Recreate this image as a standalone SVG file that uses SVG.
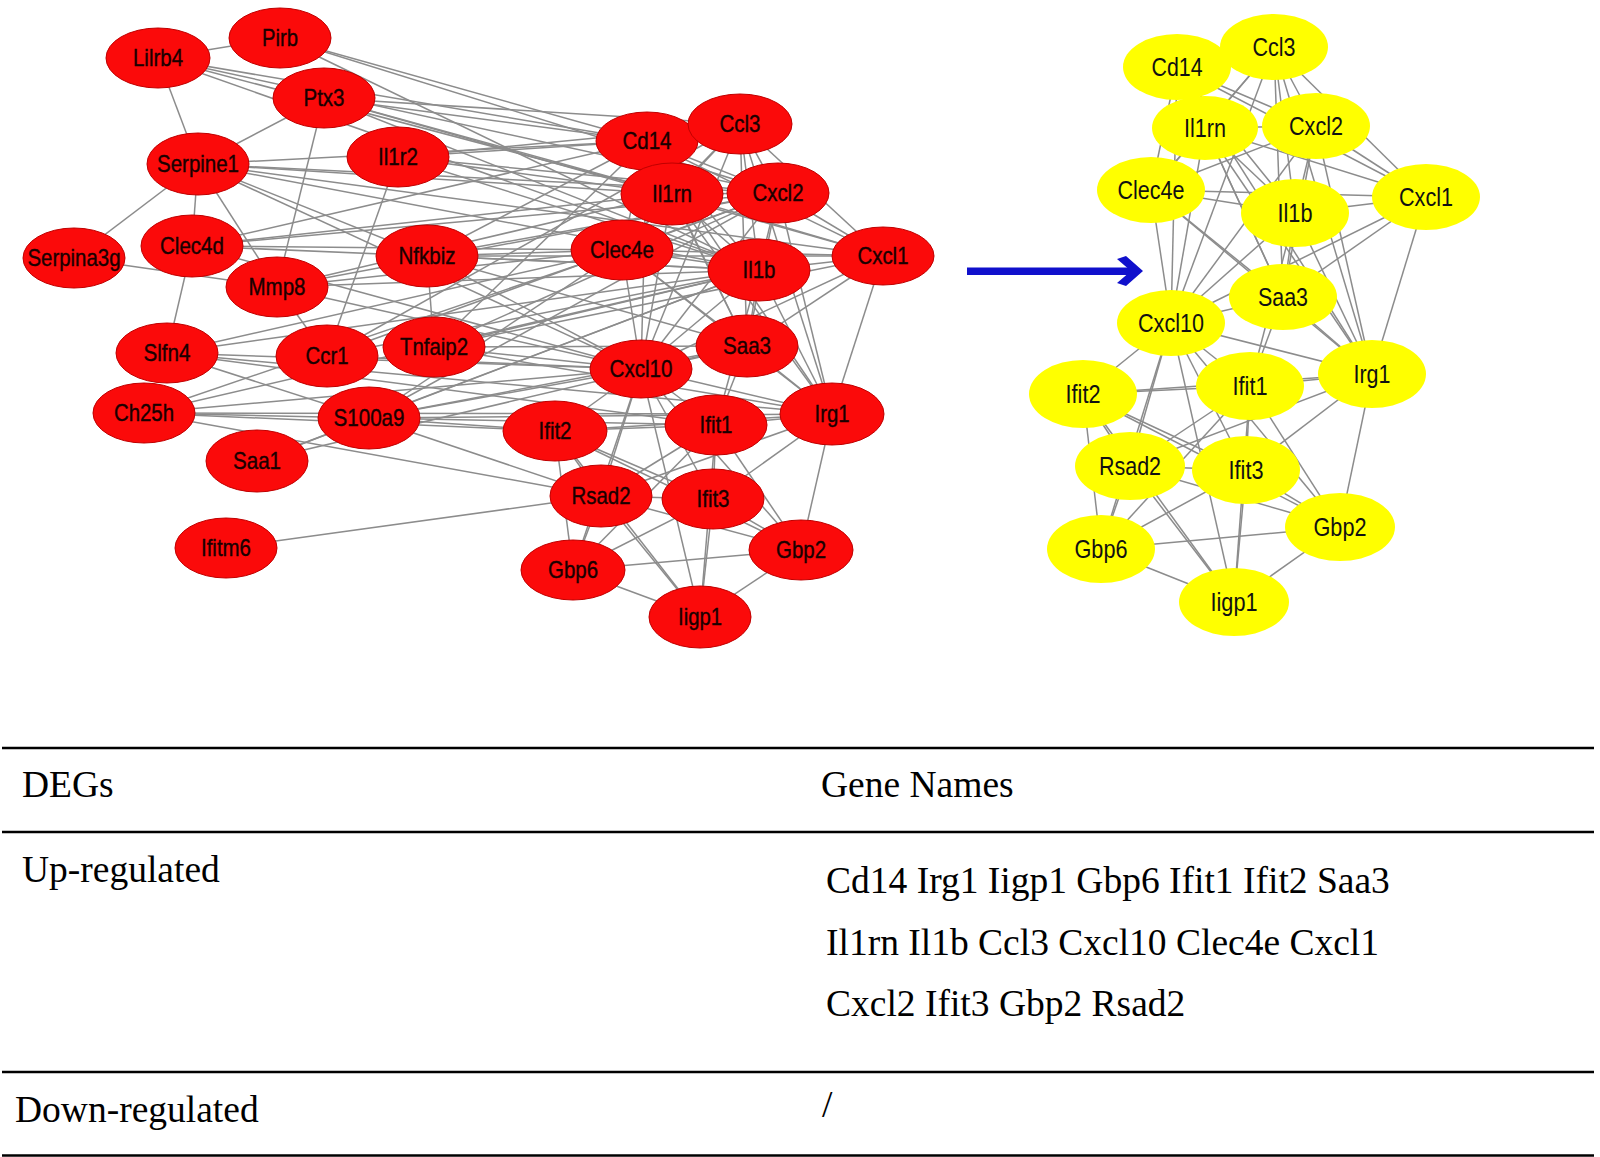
<svg xmlns="http://www.w3.org/2000/svg" width="1600" height="1157" viewBox="0 0 1600 1157">
<style>
.e{stroke:#8c8c8c;stroke-width:1.5;fill:none}
.rn{fill:#fb0a0a;stroke:#c00000;stroke-width:1}
.yn{fill:#ffff00;stroke:none}
.rt{font-family:"Liberation Sans",Arial,sans-serif;font-size:24px;text-anchor:middle;fill:#1a0000;stroke:#1a0000;stroke-width:0.4}
.yt{font-family:"Liberation Sans",Arial,sans-serif;font-size:25px;fill:#111;text-anchor:middle}
.tt{font-family:"Liberation Serif","Times New Roman",serif;font-size:37.5px;fill:#000}
.tl{stroke:#000;stroke-width:2.6}
</style>
<rect width="1600" height="1157" fill="#fff"/>
<g id="connectors">
<g id="red-edges" class="e">
<line x1="280" y1="38" x2="158" y2="58"/><line x1="280" y1="38" x2="647" y2="141"/><line x1="280" y1="38" x2="759" y2="270"/><line x1="280" y1="38" x2="778" y2="193"/>
<line x1="158" y1="58" x2="198" y2="164"/><line x1="158" y1="58" x2="647" y2="141"/><line x1="158" y1="58" x2="672" y2="194"/><line x1="158" y1="58" x2="778" y2="193"/><line x1="158" y1="58" x2="759" y2="270"/>
<line x1="324" y1="98" x2="198" y2="164"/><line x1="324" y1="98" x2="277" y2="287"/><line x1="324" y1="98" x2="647" y2="141"/><line x1="324" y1="98" x2="672" y2="194"/><line x1="324" y1="98" x2="759" y2="270"/><line x1="324" y1="98" x2="883" y2="256"/><line x1="324" y1="98" x2="740" y2="124"/>
<line x1="198" y1="164" x2="74" y2="258"/><line x1="198" y1="164" x2="192" y2="246"/><line x1="198" y1="164" x2="277" y2="287"/><line x1="198" y1="164" x2="427" y2="256"/><line x1="198" y1="164" x2="647" y2="141"/><line x1="198" y1="164" x2="672" y2="194"/><line x1="198" y1="164" x2="759" y2="270"/><line x1="198" y1="164" x2="778" y2="193"/><line x1="198" y1="164" x2="883" y2="256"/><line x1="198" y1="164" x2="641" y2="369"/>
<line x1="398" y1="157" x2="327" y2="356"/><line x1="398" y1="157" x2="647" y2="141"/><line x1="398" y1="157" x2="759" y2="270"/><line x1="398" y1="157" x2="672" y2="194"/><line x1="398" y1="157" x2="778" y2="193"/><line x1="398" y1="157" x2="740" y2="124"/>
<line x1="192" y1="246" x2="167" y2="353"/><line x1="192" y1="246" x2="647" y2="141"/><line x1="192" y1="246" x2="622" y2="250"/><line x1="192" y1="246" x2="759" y2="270"/><line x1="192" y1="246" x2="672" y2="194"/><line x1="192" y1="246" x2="641" y2="369"/><line x1="192" y1="246" x2="778" y2="193"/>
<line x1="74" y1="258" x2="277" y2="287"/>
<line x1="277" y1="287" x2="327" y2="356"/><line x1="277" y1="287" x2="759" y2="270"/><line x1="277" y1="287" x2="778" y2="193"/><line x1="277" y1="287" x2="622" y2="250"/><line x1="277" y1="287" x2="641" y2="369"/><line x1="277" y1="287" x2="672" y2="194"/>
<line x1="427" y1="256" x2="434" y2="347"/><line x1="427" y1="256" x2="759" y2="270"/><line x1="427" y1="256" x2="883" y2="256"/><line x1="427" y1="256" x2="778" y2="193"/><line x1="427" y1="256" x2="647" y2="141"/><line x1="427" y1="256" x2="622" y2="250"/><line x1="427" y1="256" x2="641" y2="369"/><line x1="427" y1="256" x2="747" y2="346"/>
<line x1="167" y1="353" x2="622" y2="250"/><line x1="167" y1="353" x2="369" y2="418"/><line x1="167" y1="353" x2="641" y2="369"/><line x1="167" y1="353" x2="759" y2="270"/><line x1="167" y1="353" x2="832" y2="414"/><line x1="167" y1="353" x2="716" y2="425"/>
<line x1="327" y1="356" x2="740" y2="124"/><line x1="327" y1="356" x2="778" y2="193"/><line x1="327" y1="356" x2="759" y2="270"/><line x1="327" y1="356" x2="641" y2="369"/>
<line x1="434" y1="347" x2="759" y2="270"/><line x1="434" y1="347" x2="883" y2="256"/><line x1="434" y1="347" x2="641" y2="369"/><line x1="434" y1="347" x2="778" y2="193"/><line x1="434" y1="347" x2="647" y2="141"/><line x1="434" y1="347" x2="747" y2="346"/><line x1="434" y1="347" x2="832" y2="414"/>
<line x1="144" y1="413" x2="369" y2="418"/><line x1="144" y1="413" x2="759" y2="270"/><line x1="144" y1="413" x2="641" y2="369"/><line x1="144" y1="413" x2="832" y2="414"/><line x1="144" y1="413" x2="622" y2="250"/><line x1="144" y1="413" x2="601" y2="496"/><line x1="144" y1="413" x2="555" y2="431"/>
<line x1="369" y1="418" x2="257" y2="461"/><line x1="369" y1="418" x2="641" y2="369"/><line x1="369" y1="418" x2="759" y2="270"/><line x1="369" y1="418" x2="832" y2="414"/><line x1="369" y1="418" x2="622" y2="250"/><line x1="369" y1="418" x2="778" y2="193"/><line x1="369" y1="418" x2="747" y2="346"/><line x1="369" y1="418" x2="716" y2="425"/><line x1="369" y1="418" x2="555" y2="431"/><line x1="369" y1="418" x2="601" y2="496"/>
<line x1="257" y1="461" x2="747" y2="346"/><line x1="257" y1="461" x2="759" y2="270"/>
<line x1="226" y1="548" x2="601" y2="496"/>
<line x1="647" y1="141" x2="740" y2="124"/><line x1="647" y1="141" x2="672" y2="194"/><line x1="647" y1="141" x2="778" y2="193"/><line x1="647" y1="141" x2="622" y2="250"/><line x1="647" y1="141" x2="759" y2="270"/><line x1="647" y1="141" x2="883" y2="256"/><line x1="647" y1="141" x2="747" y2="346"/><line x1="647" y1="141" x2="641" y2="369"/><line x1="647" y1="141" x2="832" y2="414"/>
<line x1="740" y1="124" x2="672" y2="194"/><line x1="740" y1="124" x2="778" y2="193"/><line x1="740" y1="124" x2="622" y2="250"/><line x1="740" y1="124" x2="759" y2="270"/><line x1="740" y1="124" x2="883" y2="256"/><line x1="740" y1="124" x2="747" y2="346"/><line x1="740" y1="124" x2="641" y2="369"/><line x1="740" y1="124" x2="832" y2="414"/>
<line x1="672" y1="194" x2="778" y2="193"/><line x1="672" y1="194" x2="622" y2="250"/><line x1="672" y1="194" x2="759" y2="270"/><line x1="672" y1="194" x2="883" y2="256"/><line x1="672" y1="194" x2="747" y2="346"/><line x1="672" y1="194" x2="641" y2="369"/><line x1="672" y1="194" x2="832" y2="414"/>
<line x1="778" y1="193" x2="622" y2="250"/><line x1="778" y1="193" x2="759" y2="270"/><line x1="778" y1="193" x2="883" y2="256"/><line x1="778" y1="193" x2="747" y2="346"/><line x1="778" y1="193" x2="641" y2="369"/><line x1="778" y1="193" x2="832" y2="414"/>
<line x1="622" y1="250" x2="759" y2="270"/><line x1="622" y1="250" x2="883" y2="256"/><line x1="622" y1="250" x2="747" y2="346"/><line x1="622" y1="250" x2="641" y2="369"/><line x1="622" y1="250" x2="832" y2="414"/>
<line x1="759" y1="270" x2="883" y2="256"/><line x1="759" y1="270" x2="747" y2="346"/><line x1="759" y1="270" x2="641" y2="369"/><line x1="759" y1="270" x2="832" y2="414"/>
<line x1="883" y1="256" x2="747" y2="346"/><line x1="883" y1="256" x2="641" y2="369"/><line x1="883" y1="256" x2="832" y2="414"/>
<line x1="747" y1="346" x2="641" y2="369"/><line x1="747" y1="346" x2="832" y2="414"/><line x1="641" y1="369" x2="832" y2="414"/>
<line x1="641" y1="369" x2="716" y2="425"/><line x1="641" y1="369" x2="555" y2="431"/><line x1="641" y1="369" x2="713" y2="499"/><line x1="641" y1="369" x2="601" y2="496"/><line x1="641" y1="369" x2="801" y2="550"/><line x1="641" y1="369" x2="573" y2="570"/><line x1="641" y1="369" x2="700" y2="617"/>
<line x1="832" y1="414" x2="716" y2="425"/><line x1="832" y1="414" x2="555" y2="431"/><line x1="832" y1="414" x2="713" y2="499"/><line x1="832" y1="414" x2="601" y2="496"/><line x1="832" y1="414" x2="801" y2="550"/>
<line x1="716" y1="425" x2="555" y2="431"/><line x1="716" y1="425" x2="713" y2="499"/><line x1="716" y1="425" x2="601" y2="496"/><line x1="716" y1="425" x2="801" y2="550"/><line x1="716" y1="425" x2="573" y2="570"/><line x1="716" y1="425" x2="700" y2="617"/>
<line x1="555" y1="431" x2="713" y2="499"/><line x1="555" y1="431" x2="601" y2="496"/><line x1="555" y1="431" x2="801" y2="550"/><line x1="555" y1="431" x2="573" y2="570"/><line x1="555" y1="431" x2="700" y2="617"/>
<line x1="713" y1="499" x2="601" y2="496"/><line x1="713" y1="499" x2="801" y2="550"/><line x1="713" y1="499" x2="573" y2="570"/><line x1="713" y1="499" x2="700" y2="617"/>
<line x1="601" y1="496" x2="801" y2="550"/><line x1="601" y1="496" x2="573" y2="570"/><line x1="601" y1="496" x2="700" y2="617"/>
<line x1="801" y1="550" x2="573" y2="570"/><line x1="801" y1="550" x2="700" y2="617"/><line x1="573" y1="570" x2="700" y2="617"/>
<line x1="747" y1="346" x2="716" y2="425"/><line x1="759" y1="270" x2="716" y2="425"/>
</g>
<g id="yellow-edges" class="e">
<line x1="1177" y1="67" x2="1274" y2="47"/><line x1="1177" y1="67" x2="1205" y2="128"/><line x1="1177" y1="67" x2="1316" y2="126"/><line x1="1177" y1="67" x2="1151" y2="190"/><line x1="1177" y1="67" x2="1295" y2="213"/><line x1="1177" y1="67" x2="1426" y2="197"/><line x1="1177" y1="67" x2="1283" y2="297"/><line x1="1177" y1="67" x2="1171" y2="323"/><line x1="1177" y1="67" x2="1372" y2="374"/>
<line x1="1274" y1="47" x2="1205" y2="128"/><line x1="1274" y1="47" x2="1316" y2="126"/><line x1="1274" y1="47" x2="1151" y2="190"/><line x1="1274" y1="47" x2="1295" y2="213"/><line x1="1274" y1="47" x2="1426" y2="197"/><line x1="1274" y1="47" x2="1283" y2="297"/><line x1="1274" y1="47" x2="1171" y2="323"/><line x1="1274" y1="47" x2="1372" y2="374"/>
<line x1="1205" y1="128" x2="1316" y2="126"/><line x1="1205" y1="128" x2="1151" y2="190"/><line x1="1205" y1="128" x2="1295" y2="213"/><line x1="1205" y1="128" x2="1426" y2="197"/><line x1="1205" y1="128" x2="1283" y2="297"/><line x1="1205" y1="128" x2="1171" y2="323"/><line x1="1205" y1="128" x2="1372" y2="374"/>
<line x1="1316" y1="126" x2="1151" y2="190"/><line x1="1316" y1="126" x2="1295" y2="213"/><line x1="1316" y1="126" x2="1426" y2="197"/><line x1="1316" y1="126" x2="1283" y2="297"/><line x1="1316" y1="126" x2="1171" y2="323"/><line x1="1316" y1="126" x2="1372" y2="374"/>
<line x1="1151" y1="190" x2="1295" y2="213"/><line x1="1151" y1="190" x2="1426" y2="197"/><line x1="1151" y1="190" x2="1283" y2="297"/><line x1="1151" y1="190" x2="1171" y2="323"/><line x1="1151" y1="190" x2="1372" y2="374"/>
<line x1="1295" y1="213" x2="1426" y2="197"/><line x1="1295" y1="213" x2="1283" y2="297"/><line x1="1295" y1="213" x2="1171" y2="323"/><line x1="1295" y1="213" x2="1372" y2="374"/>
<line x1="1426" y1="197" x2="1283" y2="297"/><line x1="1426" y1="197" x2="1171" y2="323"/><line x1="1426" y1="197" x2="1372" y2="374"/>
<line x1="1283" y1="297" x2="1171" y2="323"/><line x1="1283" y1="297" x2="1372" y2="374"/><line x1="1171" y1="323" x2="1372" y2="374"/>
<line x1="1171" y1="323" x2="1250" y2="386"/><line x1="1171" y1="323" x2="1083" y2="394"/><line x1="1171" y1="323" x2="1246" y2="470"/><line x1="1171" y1="323" x2="1130" y2="466"/><line x1="1171" y1="323" x2="1340" y2="527"/><line x1="1171" y1="323" x2="1101" y2="549"/><line x1="1171" y1="323" x2="1234" y2="602"/>
<line x1="1372" y1="374" x2="1250" y2="386"/><line x1="1372" y1="374" x2="1083" y2="394"/><line x1="1372" y1="374" x2="1246" y2="470"/><line x1="1372" y1="374" x2="1130" y2="466"/><line x1="1372" y1="374" x2="1340" y2="527"/>
<line x1="1250" y1="386" x2="1083" y2="394"/><line x1="1250" y1="386" x2="1246" y2="470"/><line x1="1250" y1="386" x2="1130" y2="466"/><line x1="1250" y1="386" x2="1340" y2="527"/><line x1="1250" y1="386" x2="1101" y2="549"/><line x1="1250" y1="386" x2="1234" y2="602"/>
<line x1="1083" y1="394" x2="1246" y2="470"/><line x1="1083" y1="394" x2="1130" y2="466"/><line x1="1083" y1="394" x2="1340" y2="527"/><line x1="1083" y1="394" x2="1101" y2="549"/><line x1="1083" y1="394" x2="1234" y2="602"/>
<line x1="1246" y1="470" x2="1130" y2="466"/><line x1="1246" y1="470" x2="1340" y2="527"/><line x1="1246" y1="470" x2="1101" y2="549"/><line x1="1246" y1="470" x2="1234" y2="602"/>
<line x1="1130" y1="466" x2="1340" y2="527"/><line x1="1130" y1="466" x2="1101" y2="549"/><line x1="1130" y1="466" x2="1234" y2="602"/>
<line x1="1340" y1="527" x2="1101" y2="549"/><line x1="1340" y1="527" x2="1234" y2="602"/><line x1="1101" y1="549" x2="1234" y2="602"/>
<line x1="1283" y1="297" x2="1250" y2="386"/><line x1="1295" y1="213" x2="1250" y2="386"/>
</g>
<g id="arrow">
<rect x="967" y="267.5" width="167" height="7.5" fill="#1010cc"/>
<polygon points="1117,259 1126,256 1143,271 1126,286 1117,283 1131,271" fill="#1010cc"/>
</g>
</g>
<g id="red-nodes">
<g id="r-pirb"><ellipse class="rn" cx="280" cy="38" rx="51" ry="30"/><text class="rt" x="280" y="46" textLength="36" lengthAdjust="spacingAndGlyphs">Pirb</text></g>
<g id="r-lilrb4"><ellipse class="rn" cx="158" cy="58" rx="52" ry="30"/><text class="rt" x="158" y="66" textLength="50" lengthAdjust="spacingAndGlyphs">Lilrb4</text></g>
<g id="r-ptx3"><ellipse class="rn" cx="324" cy="98" rx="51" ry="30"/><text class="rt" x="324" y="106" textLength="41" lengthAdjust="spacingAndGlyphs">Ptx3</text></g>
<g id="r-serpine1"><ellipse class="rn" cx="198" cy="164" rx="51" ry="31"/><text class="rt" x="198" y="172" textLength="82" lengthAdjust="spacingAndGlyphs">Serpine1</text></g>
<g id="r-il1r2"><ellipse class="rn" cx="398" cy="157" rx="51" ry="30"/><text class="rt" x="398" y="165" textLength="40" lengthAdjust="spacingAndGlyphs">Il1r2</text></g>
<g id="r-serpina3g"><ellipse class="rn" cx="74" cy="258" rx="51" ry="30"/><text class="rt" x="74" y="266" textLength="93" lengthAdjust="spacingAndGlyphs">Serpina3g</text></g>
<g id="r-clec4d"><ellipse class="rn" cx="192" cy="246" rx="51" ry="31"/><text class="rt" x="192" y="254" textLength="64" lengthAdjust="spacingAndGlyphs">Clec4d</text></g>
<g id="r-mmp8"><ellipse class="rn" cx="277" cy="287" rx="51" ry="30"/><text class="rt" x="277" y="295" textLength="57" lengthAdjust="spacingAndGlyphs">Mmp8</text></g>
<g id="r-nfkbiz"><ellipse class="rn" cx="427" cy="256" rx="51" ry="31"/><text class="rt" x="427" y="264" textLength="57" lengthAdjust="spacingAndGlyphs">Nfkbiz</text></g>
<g id="r-slfn4"><ellipse class="rn" cx="167" cy="353" rx="51" ry="30"/><text class="rt" x="167" y="361" textLength="47" lengthAdjust="spacingAndGlyphs">Slfn4</text></g>
<g id="r-ccr1"><ellipse class="rn" cx="327" cy="356" rx="51" ry="31"/><text class="rt" x="327" y="364" textLength="43" lengthAdjust="spacingAndGlyphs">Ccr1</text></g>
<g id="r-tnfaip2"><ellipse class="rn" cx="434" cy="347" rx="51" ry="30"/><text class="rt" x="434" y="355" textLength="68" lengthAdjust="spacingAndGlyphs">Tnfaip2</text></g>
<g id="r-ch25h"><ellipse class="rn" cx="144" cy="413" rx="51" ry="30"/><text class="rt" x="144" y="421" textLength="60" lengthAdjust="spacingAndGlyphs">Ch25h</text></g>
<g id="r-s100a9"><ellipse class="rn" cx="369" cy="418" rx="51" ry="31"/><text class="rt" x="369" y="426" textLength="71" lengthAdjust="spacingAndGlyphs">S100a9</text></g>
<g id="r-saa1"><ellipse class="rn" cx="257" cy="461" rx="51" ry="31"/><text class="rt" x="257" y="469" textLength="48" lengthAdjust="spacingAndGlyphs">Saa1</text></g>
<g id="r-ifitm6"><ellipse class="rn" cx="226" cy="548" rx="51" ry="30"/><text class="rt" x="226" y="556" textLength="50" lengthAdjust="spacingAndGlyphs">Ifitm6</text></g>
<g id="r-cd14"><ellipse class="rn" cx="647" cy="141" rx="51" ry="29"/><text class="rt" x="647" y="149" textLength="49" lengthAdjust="spacingAndGlyphs">Cd14</text></g>
<g id="r-ccl3"><ellipse class="rn" cx="740" cy="124" rx="52" ry="30"/><text class="rt" x="740" y="132" textLength="41" lengthAdjust="spacingAndGlyphs">Ccl3</text></g>
<g id="r-il1rn"><ellipse class="rn" cx="672" cy="194" rx="51" ry="31"/><text class="rt" x="672" y="202" textLength="40" lengthAdjust="spacingAndGlyphs">Il1rn</text></g>
<g id="r-cxcl2"><ellipse class="rn" cx="778" cy="193" rx="51" ry="30"/><text class="rt" x="778" y="201" textLength="51" lengthAdjust="spacingAndGlyphs">Cxcl2</text></g>
<g id="r-clec4e"><ellipse class="rn" cx="622" cy="250" rx="51" ry="30"/><text class="rt" x="622" y="258" textLength="64" lengthAdjust="spacingAndGlyphs">Clec4e</text></g>
<g id="r-il1b"><ellipse class="rn" cx="759" cy="270" rx="51" ry="31"/><text class="rt" x="759" y="278" textLength="33" lengthAdjust="spacingAndGlyphs">Il1b</text></g>
<g id="r-cxcl1"><ellipse class="rn" cx="883" cy="256" rx="51" ry="29"/><text class="rt" x="883" y="264" textLength="51" lengthAdjust="spacingAndGlyphs">Cxcl1</text></g>
<g id="r-saa3"><ellipse class="rn" cx="747" cy="346" rx="51" ry="31"/><text class="rt" x="747" y="354" textLength="48" lengthAdjust="spacingAndGlyphs">Saa3</text></g>
<g id="r-cxcl10"><ellipse class="rn" cx="641" cy="369" rx="51" ry="29"/><text class="rt" x="641" y="377" textLength="63" lengthAdjust="spacingAndGlyphs">Cxcl10</text></g>
<g id="r-irg1"><ellipse class="rn" cx="832" cy="414" rx="52" ry="31"/><text class="rt" x="832" y="422" textLength="35" lengthAdjust="spacingAndGlyphs">Irg1</text></g>
<g id="r-ifit2"><ellipse class="rn" cx="555" cy="431" rx="52" ry="30"/><text class="rt" x="555" y="439" textLength="33" lengthAdjust="spacingAndGlyphs">Ifit2</text></g>
<g id="r-ifit1"><ellipse class="rn" cx="716" cy="425" rx="51" ry="30"/><text class="rt" x="716" y="433" textLength="33" lengthAdjust="spacingAndGlyphs">Ifit1</text></g>
<g id="r-rsad2"><ellipse class="rn" cx="601" cy="496" rx="51" ry="31"/><text class="rt" x="601" y="504" textLength="59" lengthAdjust="spacingAndGlyphs">Rsad2</text></g>
<g id="r-ifit3"><ellipse class="rn" cx="713" cy="499" rx="51" ry="30"/><text class="rt" x="713" y="507" textLength="33" lengthAdjust="spacingAndGlyphs">Ifit3</text></g>
<g id="r-gbp2"><ellipse class="rn" cx="801" cy="550" rx="52" ry="30"/><text class="rt" x="801" y="558" textLength="50" lengthAdjust="spacingAndGlyphs">Gbp2</text></g>
<g id="r-gbp6"><ellipse class="rn" cx="573" cy="570" rx="52" ry="30"/><text class="rt" x="573" y="578" textLength="50" lengthAdjust="spacingAndGlyphs">Gbp6</text></g>
<g id="r-iigp1"><ellipse class="rn" cx="700" cy="617" rx="51" ry="31"/><text class="rt" x="700" y="625" textLength="44" lengthAdjust="spacingAndGlyphs">Iigp1</text></g>
</g>
<g id="yellow-nodes">
<g id="y-cd14"><ellipse class="yn" cx="1177" cy="67" rx="54" ry="33"/><text class="yt" x="1177" y="76" textLength="51" lengthAdjust="spacingAndGlyphs">Cd14</text></g>
<g id="y-ccl3"><ellipse class="yn" cx="1274" cy="47" rx="54" ry="33"/><text class="yt" x="1274" y="56" textLength="43" lengthAdjust="spacingAndGlyphs">Ccl3</text></g>
<g id="y-il1rn"><ellipse class="yn" cx="1205" cy="128" rx="53" ry="32"/><text class="yt" x="1205" y="137" textLength="42" lengthAdjust="spacingAndGlyphs">Il1rn</text></g>
<g id="y-cxcl2"><ellipse class="yn" cx="1316" cy="126" rx="54" ry="33"/><text class="yt" x="1316" y="135" textLength="54" lengthAdjust="spacingAndGlyphs">Cxcl2</text></g>
<g id="y-clec4e"><ellipse class="yn" cx="1151" cy="190" rx="54" ry="33"/><text class="yt" x="1151" y="199" textLength="67" lengthAdjust="spacingAndGlyphs">Clec4e</text></g>
<g id="y-il1b"><ellipse class="yn" cx="1295" cy="213" rx="54" ry="34"/><text class="yt" x="1295" y="222" textLength="35" lengthAdjust="spacingAndGlyphs">Il1b</text></g>
<g id="y-cxcl1"><ellipse class="yn" cx="1426" cy="197" rx="54" ry="33"/><text class="yt" x="1426" y="206" textLength="54" lengthAdjust="spacingAndGlyphs">Cxcl1</text></g>
<g id="y-saa3"><ellipse class="yn" cx="1283" cy="297" rx="54" ry="33"/><text class="yt" x="1283" y="306" textLength="50" lengthAdjust="spacingAndGlyphs">Saa3</text></g>
<g id="y-cxcl10"><ellipse class="yn" cx="1171" cy="323" rx="54" ry="33"/><text class="yt" x="1171" y="332" textLength="66" lengthAdjust="spacingAndGlyphs">Cxcl10</text></g>
<g id="y-irg1"><ellipse class="yn" cx="1372" cy="374" rx="54" ry="34"/><text class="yt" x="1372" y="383" textLength="37" lengthAdjust="spacingAndGlyphs">Irg1</text></g>
<g id="y-ifit2"><ellipse class="yn" cx="1083" cy="394" rx="54" ry="34"/><text class="yt" x="1083" y="403" textLength="35" lengthAdjust="spacingAndGlyphs">Ifit2</text></g>
<g id="y-ifit1"><ellipse class="yn" cx="1250" cy="386" rx="54" ry="34"/><text class="yt" x="1250" y="395" textLength="35" lengthAdjust="spacingAndGlyphs">Ifit1</text></g>
<g id="y-rsad2"><ellipse class="yn" cx="1130" cy="466" rx="55" ry="34"/><text class="yt" x="1130" y="475" textLength="62" lengthAdjust="spacingAndGlyphs">Rsad2</text></g>
<g id="y-ifit3"><ellipse class="yn" cx="1246" cy="470" rx="54" ry="34"/><text class="yt" x="1246" y="479" textLength="35" lengthAdjust="spacingAndGlyphs">Ifit3</text></g>
<g id="y-gbp2"><ellipse class="yn" cx="1340" cy="527" rx="55" ry="34"/><text class="yt" x="1340" y="536" textLength="53" lengthAdjust="spacingAndGlyphs">Gbp2</text></g>
<g id="y-gbp6"><ellipse class="yn" cx="1101" cy="549" rx="54" ry="34"/><text class="yt" x="1101" y="558" textLength="53" lengthAdjust="spacingAndGlyphs">Gbp6</text></g>
<g id="y-iigp1"><ellipse class="yn" cx="1234" cy="602" rx="55" ry="34"/><text class="yt" x="1234" y="611" textLength="47" lengthAdjust="spacingAndGlyphs">Iigp1</text></g>
</g>
<g id="table">
<line class="tl" x1="2" y1="748" x2="1594" y2="748"/>
<line class="tl" x1="2" y1="832" x2="1594" y2="832"/>
<line class="tl" x1="2" y1="1072" x2="1594" y2="1072"/>
<line class="tl" x1="2" y1="1155.5" x2="1594" y2="1155.5"/>
<text class="tt" x="22" y="797">DEGs</text>
<text class="tt" x="821" y="797">Gene Names</text>
<text class="tt" x="22" y="882">Up-regulated</text>
<text class="tt" x="826" y="893">Cd14 Irg1 Iigp1 Gbp6 Ifit1 Ifit2 Saa3</text>
<text class="tt" x="826" y="955">Il1rn Il1b Ccl3 Cxcl10 Clec4e Cxcl1</text>
<text class="tt" x="826" y="1016">Cxcl2 Ifit3 Gbp2 Rsad2</text>
<text class="tt" x="15" y="1122">Down-regulated</text>
<text class="tt" x="822" y="1117">/</text>
</g>
</svg>
